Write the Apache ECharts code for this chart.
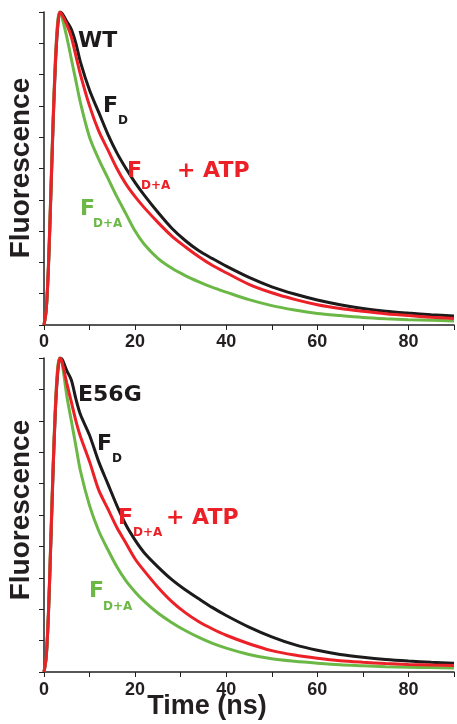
<!DOCTYPE html>
<html>
<head>
<meta charset="utf-8">
<script src="https://cdn.jsdelivr.net/npm/echarts@6/dist/echarts.min.js"></script>
<style>
html,body{margin:0;padding:0;background:#fff;}
#c{width:457px;height:724px;}
</style>
</head>
<body>
<div id="c"></div>
<script>
// time points (ns)
var time = [0, 0.5, 1, 1.5, 2, 2.5, 3, 3.5, 4, 5, 6, 7, 8, 10, 12, 14, 16, 18, 20, 22, 25, 28, 31, 34, 37, 40, 45, 50, 55, 60, 65, 70, 75, 80, 85, 90];

// WT panel
var wtFD      = [0, 0.05, 0.19, 0.41, 0.64, 0.83, 0.95, 1.0, 0.995, 0.97, 0.945, 0.9, 0.84, 0.75, 0.68, 0.61, 0.55, 0.5, 0.455, 0.415, 0.36, 0.31, 0.27, 0.237, 0.212, 0.188, 0.152, 0.122, 0.099, 0.08, 0.065, 0.053, 0.044, 0.038, 0.033, 0.029];
var wtFDA_ATP = [0, 0.05, 0.2, 0.42, 0.65, 0.84, 0.96, 1.0, 0.99, 0.96, 0.92, 0.86, 0.8, 0.7, 0.62, 0.56, 0.5, 0.45, 0.41, 0.375, 0.328, 0.285, 0.25, 0.218, 0.19, 0.167, 0.13, 0.103, 0.082, 0.065, 0.053, 0.044, 0.036, 0.03, 0.025, 0.021];
var wtFDA     = [0, 0.05, 0.2, 0.43, 0.66, 0.85, 0.97, 1.0, 0.98, 0.92, 0.85, 0.78, 0.71, 0.6, 0.53, 0.47, 0.41, 0.355, 0.3, 0.258, 0.213, 0.182, 0.158, 0.138, 0.12, 0.105, 0.081, 0.062, 0.048, 0.037, 0.03, 0.024, 0.02, 0.017, 0.015, 0.013];

// E56G panel
var e56FD      = [0, 0.05, 0.19, 0.41, 0.64, 0.83, 0.95, 1.0, 0.995, 0.96, 0.93, 0.87, 0.82, 0.754, 0.67, 0.6, 0.53, 0.468, 0.42, 0.38, 0.335, 0.295, 0.262, 0.233, 0.205, 0.18, 0.143, 0.112, 0.087, 0.069, 0.056, 0.047, 0.04, 0.035, 0.031, 0.028];
var e56FDA_ATP = [0, 0.05, 0.2, 0.42, 0.65, 0.84, 0.96, 1.0, 0.985, 0.92, 0.86, 0.8, 0.75, 0.67, 0.58, 0.52, 0.46, 0.41, 0.36, 0.322, 0.27, 0.225, 0.189, 0.16, 0.137, 0.117, 0.09, 0.068, 0.054, 0.044, 0.036, 0.031, 0.027, 0.024, 0.022, 0.021];
var e56FDA     = [0, 0.05, 0.2, 0.43, 0.66, 0.85, 0.97, 1.0, 0.98, 0.88, 0.8, 0.72, 0.64, 0.53, 0.45, 0.39, 0.335, 0.29, 0.255, 0.225, 0.188, 0.158, 0.132, 0.11, 0.091, 0.076, 0.056, 0.042, 0.034, 0.028, 0.023, 0.02, 0.017, 0.015, 0.014, 0.013];

var xTickLabels = [0, 20, 40, 60, 80];

var BLACK = '#1c1a1a', RED = '#ec2027', GREEN = '#6cb847';
var FONT = '"Liberation Sans", Arial, sans-serif';
var AFONT = '"DejaVu Sans", "Liberation Sans", sans-serif';

function pairs(vals){ return time.map(function(t,i){ return [t, vals[i]]; }); }

function xAxis(gi){
  return {
    type:'value', gridIndex:gi, min:0, max:90, interval:10,
    axisLine:{show:true, onZero:false, lineStyle:{color:'#231f20', width:1.5}},
    axisTick:{show:true, inside:false, length:5, lineStyle:{color:'#231f20', width:1}},
    splitLine:{show:false},
    axisLabel:{show:true, margin:gi===0?8:9, color:'#231f20', fontFamily:FONT, fontWeight:'bold', fontSize:18,
      formatter:function(v){ return xTickLabels.indexOf(v) >= 0 ? String(v) : ''; }}
  };
}
function yAxis(gi){
  return {
    type:'value', gridIndex:gi, min:0, max:1, interval:0.1,
    axisLine:{show:true, lineStyle:{color:'#231f20', width:1.5}},
    axisTick:{show:true, inside:false, length:5, lineStyle:{color:'#231f20', width:1}},
    splitLine:{show:false},
    axisLabel:{show:false}
  };
}
function line(gi, vals, color){
  return {type:'line', xAxisIndex:gi, yAxisIndex:gi, data:pairs(vals), showSymbol:false, symbol:'none',
    smooth:0.3, lineStyle:{color:color, width:3}, animation:false};
}
function txt(x, y, s, color, size){
  return {type:'text', left:x, top:y-size/2, z:10, style:{text:s, fill:color, font:'bold '+size+'px '+AFONT}};
}

var graphics = [
  // top panel annotations
  txt(78, 41, 'WT', BLACK, 22),
  txt(103, 106, 'F', BLACK, 22), txt(118, 121, 'D', BLACK, 12),
  txt(127, 171, 'F', RED, 22), txt(141, 185.5, 'D+A', RED, 12), txt(177, 171, '+ ATP', RED, 22),
  txt(80, 209, 'F', GREEN, 22), txt(93, 224, 'D+A', GREEN, 12),
  // bottom panel annotations
  txt(78, 395, 'E56G', BLACK, 22),
  txt(97, 444.5, 'F', BLACK, 22), txt(112, 459, 'D', BLACK, 12),
  txt(118, 518, 'F', RED, 22), txt(133, 532.5, 'D+A', RED, 12), txt(166, 518, '+ ATP', RED, 22),
  txt(89, 591.5, 'F', GREEN, 22), txt(103, 607, 'D+A', GREEN, 12),
  // axis titles
  {type:'text', x:207, y:707, z:10, style:{text:'Time (ns)', fill:'#231f20', font:'bold 27px '+FONT, textAlign:'center', textVerticalAlign:'middle'}},
  {type:'text', x:21, y:168, rotation:Math.PI/2, z:10, style:{text:'Fluorescence', fill:'#231f20', font:'bold 28px '+FONT, textAlign:'center', textVerticalAlign:'middle'}},
  {type:'text', x:21, y:510, rotation:Math.PI/2, z:10, style:{text:'Fluorescence', fill:'#231f20', font:'bold 28px '+FONT, textAlign:'center', textVerticalAlign:'middle'}}
];

var chart = echarts.init(document.getElementById('c'), null, {renderer:'canvas'});
chart.setOption({
  animation:false,
  backgroundColor:'#ffffff',
  grid:[
    {left:44, top:12, width:413, height:313},
    {left:44, top:358, width:413, height:314}
  ],
  xAxis:[xAxis(0), xAxis(1)],
  yAxis:[yAxis(0), yAxis(1)],
  series:[
    line(0, wtFD, BLACK), line(0, wtFDA, GREEN), line(0, wtFDA_ATP, RED),
    line(1, e56FD, BLACK), line(1, e56FDA, GREEN), line(1, e56FDA_ATP, RED)
  ],
  graphic:graphics
});
</script>
</body>
</html>
